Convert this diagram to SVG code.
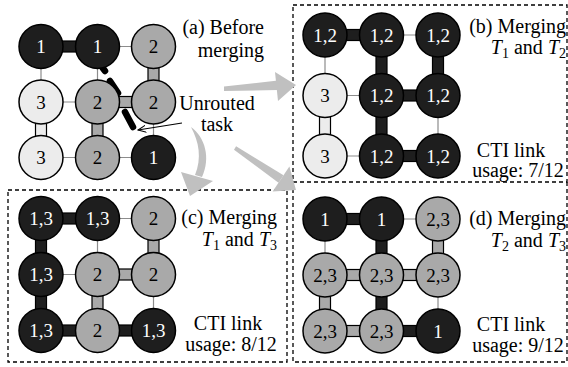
<svg xmlns="http://www.w3.org/2000/svg" width="568" height="367" viewBox="0 0 568 367" font-family="'Liberation Serif', serif">
<style>
text{font-family:'Liberation Serif',serif}
.nb{fill:#1e1e1e;stroke:#000;stroke-width:1.5}
.ng{fill:#a9a9a9;stroke:#000;stroke-width:1.5}
.nl{fill:#ececec;stroke:#000;stroke-width:1.5}
.kb{fill:#1e1e1e;stroke:#000;stroke-width:1.2}
.kg{fill:#a9a9a9;stroke:#000;stroke-width:1.2}
.kl{fill:#ececec;stroke:#000;stroke-width:1.2}
.thin{stroke:#8c8c8c;stroke-width:1.2}
.lw{fill:#fff;font-size:19px;text-anchor:middle}
.lk{fill:#000;font-size:19px;text-anchor:middle}
.cap{fill:#000;font-size:20px}
.box{fill:none;stroke:#000;stroke-width:1.3;stroke-dasharray:4 3}
.big{fill:#c0c0c0}
.dash{stroke:#000;stroke-width:6.5;stroke-linecap:round;fill:none}
</style>
<defs>
<marker id="open" viewBox="0 0 10 10" refX="9" refY="5" markerWidth="9" markerHeight="9" markerUnits="userSpaceOnUse" orient="auto">
<path d="M0,1 L9,5 L0,9" fill="none" stroke="#000" stroke-width="1.2"/>
</marker>
</defs>

<g id="frames">
<rect class="box" x="293" y="5" width="274" height="177"/>
<rect class="box" x="8" y="190" width="279" height="172"/>
<path class="box" d="M293,182 V362 H567 V182"/>
</g>

<g id="connectors">
<line class="thin" x1="97.5" y1="46.5" x2="153.5" y2="46.5"/>
<line class="thin" x1="41" y1="102" x2="97.5" y2="102"/>
<line class="thin" x1="41" y1="157.5" x2="153.5" y2="157.5"/>
<line class="thin" x1="41" y1="46.5" x2="41" y2="102"/>
<line class="thin" x1="97.5" y1="46.5" x2="97.5" y2="102"/>
<line class="thin" x1="153.5" y1="102" x2="153.5" y2="157.5"/>
<rect class="kb" x="41" y="41" width="56.5" height="11"/>
<rect class="kg" x="97.5" y="96.5" width="56" height="11"/>
<rect class="kl" x="35.5" y="102" width="11" height="55.5"/>
<rect class="kg" x="92" y="102" width="11" height="55.5"/>
<rect class="kg" x="148" y="46.5" width="11" height="55.5"/>
<path class="dash" d="M102,67 L105,71"/>
<path class="dash" d="M110,81 L118,93"/>
<path class="dash" d="M125,112 L133,127"/>
<line class="thin" x1="381.5" y1="35" x2="438" y2="35"/>
<line class="thin" x1="325" y1="95.5" x2="381.5" y2="95.5"/>
<line class="thin" x1="325" y1="156" x2="381.5" y2="156"/>
<line class="thin" x1="325" y1="35" x2="325" y2="95.5"/>
<line class="thin" x1="438" y1="95.5" x2="438" y2="156"/>
<rect class="kb" x="325" y="29.5" width="56.5" height="11"/>
<rect class="kb" x="381.5" y="90" width="56.5" height="11"/>
<rect class="kb" x="381.5" y="150.5" width="56.5" height="11"/>
<rect class="kb" x="376" y="35" width="11" height="121"/>
<rect class="kb" x="432.5" y="35" width="11" height="60.5"/>
<rect class="kl" x="319.5" y="95.5" width="11" height="60.5"/>
<line class="thin" x1="97.5" y1="218.5" x2="153.5" y2="218.5"/>
<line class="thin" x1="41" y1="274.5" x2="97.5" y2="274.5"/>
<line class="thin" x1="97.5" y1="218.5" x2="97.5" y2="274.5"/>
<line class="thin" x1="153.5" y1="274.5" x2="153.5" y2="330.5"/>
<rect class="kb" x="41" y="213" width="56.5" height="11"/>
<rect class="kb" x="41" y="325" width="112.5" height="11"/>
<rect class="kb" x="35.5" y="218.5" width="11" height="112"/>
<rect class="kg" x="97.5" y="269" width="56" height="11"/>
<rect class="kg" x="92" y="274.5" width="11" height="56"/>
<rect class="kg" x="148" y="218.5" width="11" height="56"/>
<line class="thin" x1="381.5" y1="219" x2="438" y2="219"/>
<line class="thin" x1="325" y1="219" x2="325" y2="275"/>
<line class="thin" x1="438" y1="275" x2="438" y2="331"/>
<rect class="kb" x="325" y="213.5" width="56.5" height="11"/>
<rect class="kb" x="381.5" y="325.5" width="56.5" height="11"/>
<rect class="kb" x="376" y="219" width="11" height="112"/>
<rect class="kg" x="325" y="269.5" width="113" height="11"/>
<rect class="kg" x="325" y="325.5" width="56.5" height="11"/>
<rect class="kg" x="319.5" y="275" width="11" height="56"/>
<rect class="kg" x="432.5" y="219" width="11" height="56"/>
</g>

<g id="panel-a-nodes">
<g id="a11"><circle class="nb" cx="41" cy="46.5" r="22"/><text class="lw" x="41" y="53">1</text></g>
<g id="a12"><circle class="nb" cx="97.5" cy="46.5" r="22"/><text class="lw" x="97.5" y="53">1</text></g>
<g id="a13"><circle class="ng" cx="153.5" cy="46.5" r="22"/><text class="lk" x="153.5" y="53">2</text></g>
<g id="a21"><circle class="nl" cx="41" cy="102" r="22"/><text class="lk" x="41" y="108.5">3</text></g>
<g id="a22"><circle class="ng" cx="97.5" cy="102" r="22"/><text class="lk" x="97.5" y="108.5">2</text></g>
<g id="a23"><circle class="ng" cx="153.5" cy="102" r="22"/><text class="lk" x="153.5" y="108.5">2</text></g>
<g id="a31"><circle class="nl" cx="41" cy="157.5" r="22"/><text class="lk" x="41" y="164">3</text></g>
<g id="a32"><circle class="ng" cx="97.5" cy="157.5" r="22"/><text class="lk" x="97.5" y="164">2</text></g>
<g id="a33"><circle class="nb" cx="153.5" cy="157.5" r="22"/><text class="lw" x="153.5" y="164">1</text></g>
</g>

<g id="panel-b-nodes">
<g id="b11"><circle class="nb" cx="325" cy="35" r="22"/><text class="lw" x="325" y="41.5">1,2</text></g>
<g id="b12"><circle class="nb" cx="381.5" cy="35" r="22"/><text class="lw" x="381.5" y="41.5">1,2</text></g>
<g id="b13"><circle class="nb" cx="438" cy="35" r="22"/><text class="lw" x="438" y="41.5">1,2</text></g>
<g id="b21"><circle class="nl" cx="325" cy="95.5" r="22"/><text class="lk" x="325" y="102">3</text></g>
<g id="b22"><circle class="nb" cx="381.5" cy="95.5" r="22"/><text class="lw" x="381.5" y="102">1,2</text></g>
<g id="b23"><circle class="nb" cx="438" cy="95.5" r="22"/><text class="lw" x="438" y="102">1,2</text></g>
<g id="b31"><circle class="nl" cx="325" cy="156" r="22"/><text class="lk" x="325" y="162.5">3</text></g>
<g id="b32"><circle class="nb" cx="381.5" cy="156" r="22"/><text class="lw" x="381.5" y="162.5">1,2</text></g>
<g id="b33"><circle class="nb" cx="438" cy="156" r="22"/><text class="lw" x="438" y="162.5">1,2</text></g>
</g>

<g id="panel-c-nodes">
<g id="c11"><circle class="nb" cx="41" cy="218.5" r="22"/><text class="lw" x="41" y="225">1,3</text></g>
<g id="c12"><circle class="nb" cx="97.5" cy="218.5" r="22"/><text class="lw" x="97.5" y="225">1,3</text></g>
<g id="c13"><circle class="ng" cx="153.5" cy="218.5" r="22"/><text class="lk" x="153.5" y="225">2</text></g>
<g id="c21"><circle class="nb" cx="41" cy="274.5" r="22"/><text class="lw" x="41" y="281">1,3</text></g>
<g id="c22"><circle class="ng" cx="97.5" cy="274.5" r="22"/><text class="lk" x="97.5" y="281">2</text></g>
<g id="c23"><circle class="ng" cx="153.5" cy="274.5" r="22"/><text class="lk" x="153.5" y="281">2</text></g>
<g id="c31"><circle class="nb" cx="41" cy="330.5" r="22"/><text class="lw" x="41" y="337">1,3</text></g>
<g id="c32"><circle class="ng" cx="97.5" cy="330.5" r="22"/><text class="lk" x="97.5" y="337">2</text></g>
<g id="c33"><circle class="nb" cx="153.5" cy="330.5" r="22"/><text class="lw" x="153.5" y="337">1,3</text></g>
</g>

<g id="panel-d-nodes">
<g id="d11"><circle class="nb" cx="325" cy="219" r="22"/><text class="lw" x="325" y="225.5">1</text></g>
<g id="d12"><circle class="nb" cx="381.5" cy="219" r="22"/><text class="lw" x="381.5" y="225.5">1</text></g>
<g id="d13"><circle class="ng" cx="438" cy="219" r="22"/><text class="lk" x="438" y="225.5">2,3</text></g>
<g id="d21"><circle class="ng" cx="325" cy="275" r="22"/><text class="lk" x="325" y="281.5">2,3</text></g>
<g id="d22"><circle class="ng" cx="381.5" cy="275" r="22"/><text class="lk" x="381.5" y="281.5">2,3</text></g>
<g id="d23"><circle class="ng" cx="438" cy="275" r="22"/><text class="lk" x="438" y="281.5">2,3</text></g>
<g id="d31"><circle class="ng" cx="325" cy="331" r="22"/><text class="lk" x="325" y="337.5">2,3</text></g>
<g id="d32"><circle class="ng" cx="381.5" cy="331" r="22"/><text class="lk" x="381.5" y="337.5">2,3</text></g>
<g id="d33"><circle class="nb" cx="438" cy="331" r="22"/><text class="lw" x="438" y="337.5">1</text></g>
</g>

<g id="big-arrows">
<path class="big" d="M224,86.5 L278,80.5 L278,90 L224,91 Z"/>
<path class="big" d="M275,72 L296,85 L278,101 Z"/>
<path class="big" d="M191,127 C205,137 211,158 202,177 L195,175 C202,158 199,142 191,127 Z"/>
<path class="big" d="M181,172 L213,181 L190,196 Z"/>
<path class="big" d="M234,149.7 L236.1,146.3 L283.5,175.3 L278.5,182.7 Z"/>
<path class="big" d="M272.6,191.4 L289.4,166.6 L296,190 Z"/>
</g>

<g id="unrouted-arrow">
<line x1="182" y1="123" x2="138" y2="130" stroke="#000" stroke-width="1.2" marker-end="url(#open)"/>
</g>

<g id="labels">
<text class="cap" font-family="'Liberation Serif', serif" x="264" y="34" text-anchor="end">(a) Before</text>
<text class="cap" font-family="'Liberation Serif', serif" x="264" y="57" text-anchor="end">merging</text>
<text class="cap" font-family="'Liberation Serif', serif" x="217" y="110" text-anchor="middle" font-size="19">Unrouted</text>
<text class="cap" font-family="'Liberation Serif', serif" x="217" y="131" text-anchor="middle" font-size="19">task</text>

<text class="cap" x="566" y="33" text-anchor="end">(b) Merging</text>
<text class="cap" x="566" y="54" text-anchor="end"><tspan font-style="italic">T</tspan><tspan font-size="14" dy="4">1</tspan><tspan dy="-4"> and </tspan><tspan font-style="italic">T</tspan><tspan font-size="14" dy="4">2</tspan></text>
<text class="cap" x="511" y="157" text-anchor="middle">CTI link</text>
<text class="cap" x="518" y="177" text-anchor="middle">usage: 7/12</text>

<text class="cap" x="277" y="224" text-anchor="end">(c) Merging</text>
<text class="cap" x="277" y="246" text-anchor="end"><tspan font-style="italic">T</tspan><tspan font-size="14" dy="4">1</tspan><tspan dy="-4"> and </tspan><tspan font-style="italic">T</tspan><tspan font-size="14" dy="4">3</tspan></text>
<text class="cap" x="228" y="330" text-anchor="middle">CTI link</text>
<text class="cap" x="231" y="351" text-anchor="middle">usage: 8/12</text>

<text class="cap" x="566" y="225" text-anchor="end">(d) Merging</text>
<text class="cap" x="566" y="247" text-anchor="end"><tspan font-style="italic">T</tspan><tspan font-size="14" dy="4">2</tspan><tspan dy="-4"> and </tspan><tspan font-style="italic">T</tspan><tspan font-size="14" dy="4">3</tspan></text>
<text class="cap" x="511" y="331" text-anchor="middle">CTI link</text>
<text class="cap" x="518" y="352" text-anchor="middle">usage: 9/12</text>
</g>
</svg>
